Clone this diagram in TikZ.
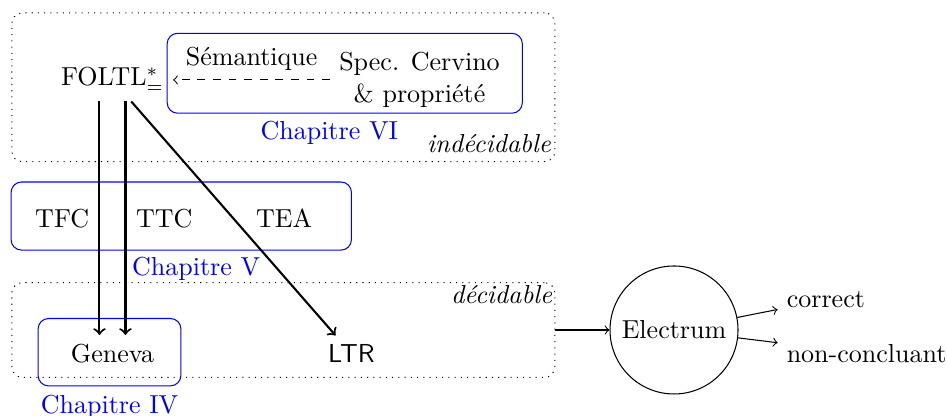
\documentclass[tikz,border=0pt]{standalone}
\usepackage{amsmath}
\usepackage{tikz}
\usetikzlibrary{arrows.meta}
\usetikzlibrary{arrows, positioning}

\begin{document}
\begin{tikzpicture}[->,>=to,node distance=0pt,
    zone/.style={draw,dotted,rounded corners},
    chapbox/.style={draw=blue,rounded corners},
    chaplabel/.style={text=blue},
    model/.style={circle,draw,minimum size=1.73cm}]
        \useasboundingbox (0,0) rectangle (12.8,-5.62);

        % zones
        \node[zone, minimum width=7.34cm, minimum height=2.01cm] (indec) at (3.83,-1.18) {};
        \node[zone, minimum width=7.34cm, minimum height=1.28cm] (dec)   at (3.83,-4.46) {};
        \node[anchor=south east, inner xsep=1.5pt, inner ysep=3.5pt] (indeclabel) at (indec.south east) {\textit{indécidable}};
        \node[anchor=north east, inner sep=1pt] (declabel) at (dec.north east) {\textit{décidable}};

        % chapitres
        \node[chapbox, minimum width=4.80cm, minimum height=1.08cm] (boxVI) at (4.66,-0.99) {};
        \node[chapbox, minimum width=4.60cm, minimum height=0.92cm] (boxV)  at (2.45,-2.92) {};
        \node[chapbox, minimum width=1.93cm, minimum height=0.91cm] (boxIV) at (1.48,-4.76) {};
        \node[chaplabel] (chapVI) at (4.45,-1.79) {Chapitre VI};
        \node[chaplabel] (chapV)  at (2.65,-3.64) {Chapitre V};
        \node[chaplabel, below=of boxIV] (chapIV) {Chapitre IV};

        \node (foltl) at (1.52,-1.08) {FOLTL$^*_=$};
        \node[align=center] (spec) at (5.67,-1.08) {Spec. Cervino\\ \& propriété};
        \node (tfc) at (0.84,-2.95) {TFC};
        \node (ttc) at (2.22,-2.95) {TTC};
        \node (tea) at (3.84,-2.95) {TEA};
        \node (geneva) at (1.52,-4.78) {Geneva};
        \node (ltr) at (4.75,-4.78) {\textsf{LTR}};

        \node[model] (electrum) at (9.11,-4.46) {Electrum};
        \node[anchor=base west] (correct) at (10.51,-4.16) {correct};
        \node[anchor=base west] (nonconc) at (10.51,-4.90) {non-concluant};

          \path
            (spec) edge [dashed]   node [above]   {Sémantique}  (foltl);
          \path[thick]
            ([xshift=-5pt]foltl.south) edge ([xshift=-5pt]geneva.north)
            ([xshift=5pt]foltl.south)  edge ([xshift=5pt]geneva.north)
            (foltl) edge (ltr);
          \path
            (dec) edge (electrum)
            (electrum) edge (correct)
                       edge (nonconc);
\end{tikzpicture}
\end{document}
